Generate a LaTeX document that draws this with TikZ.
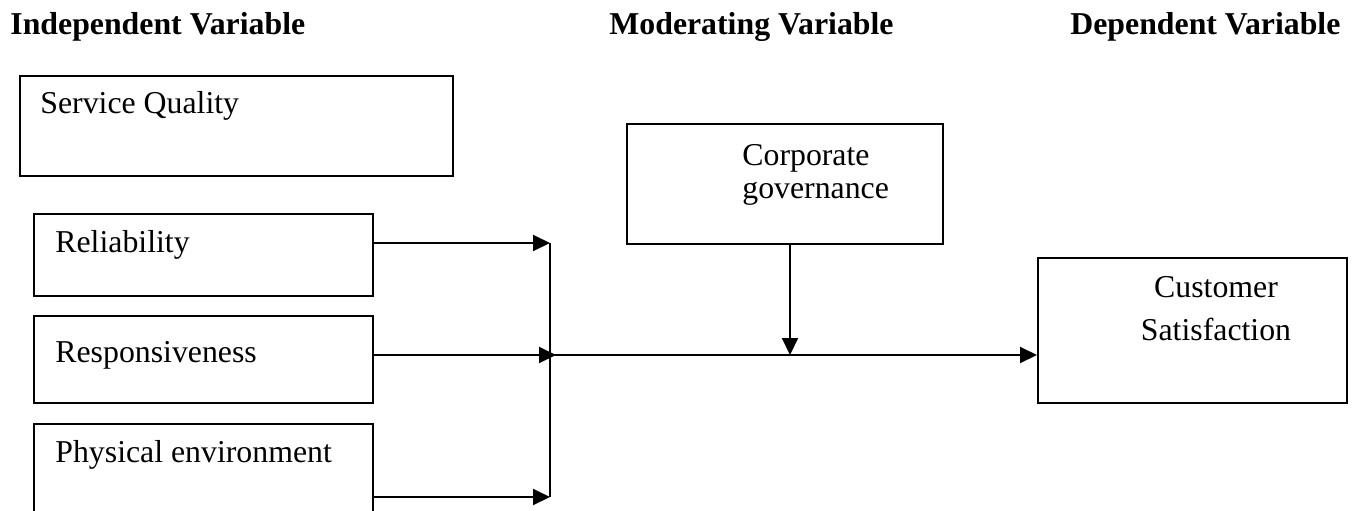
\documentclass[tikz,border=0pt]{standalone}
\usepackage{fontspec}
\setmainfont{Liberation Serif}
\usetikzlibrary{arrows.meta}
\begin{document}
\begin{tikzpicture}[x=0.5pt,y=-0.5pt,
  box/.style={draw,line width=1pt,rectangle,inner sep=0pt,anchor=north west},
  txt/.style={inner sep=0pt,anchor=base west,font=\fontsize{15.9}{18}\selectfont},
  ctxt/.style={inner sep=0pt,anchor=base,font=\fontsize{15.9}{18}\selectfont},
  hdr/.style={inner sep=0pt,anchor=base west,font=\fontsize{15.9}{18}\selectfont\bfseries},
  conn/.style={line width=1pt},
  arr/.style={line width=1pt,-{Triangle[length=8.5pt,width=8pt]}}]
\useasboundingbox (0,0) rectangle (1361,510);
\clip (0,0) rectangle (1361,510);
% headers
\node[hdr] (h1) at (10,34) {Independent Variable};
\node[hdr] (h2) at (609,34) {Moderating Variable};
\node[hdr] (h3) at (1070,34) {Dependent Variable};
% boxes
\node[box,minimum width=216.5pt,minimum height=50pt] (sq) at (19,75) {};
\node[box,minimum width=169.5pt,minimum height=41pt] (rel) at (33,213) {};
\node[box,minimum width=169.5pt,minimum height=43.5pt] (resp) at (33,315) {};
\node[box,minimum width=169.5pt,minimum height=70pt] (phys) at (33,423) {};
\node[box,minimum width=158pt,minimum height=60pt] (cg) at (626,123) {};
\node[box,minimum width=154.5pt,minimum height=72.5pt] (cs) at (1037,257) {};
% texts
\node[txt] (tsq) at (40,113) {Service Quality};
\node[txt] (trel) at (55,252) {Reliability};
\node[txt] (tresp) at (55,362) {Responsiveness};
\node[txt] (tphys) at (55,462) {Physical environment};
\node[txt] (tcg1) at (742,165) {Corporate};
\node[txt] (tcg2) at (742,198) {governance};
\node[ctxt] (tcs1) at (1216,297) {Customer};
\node[ctxt] (tcs2) at (1216,340) {Satisfaction};
% junction coordinates
\coordinate (j1) at (550,243);
\coordinate (j2) at (556,355);
\coordinate (j2s) at (550,355);
\coordinate (j3) at (550,497);
\coordinate (m) at (790,355);
% connectors
\draw[arr] (rel.east |- j1) -- (j1);
\draw[arr] (resp.east |- j2) -- (j2);
\draw[arr] (phys.east |- j3) -- (j3);
\draw[conn] (j1) -- (j3);
\draw[arr] (j2s) -- (cs.west |- j2s);
\draw[arr] (cg.south -| m) -- (m);
\end{tikzpicture}
\end{document}
